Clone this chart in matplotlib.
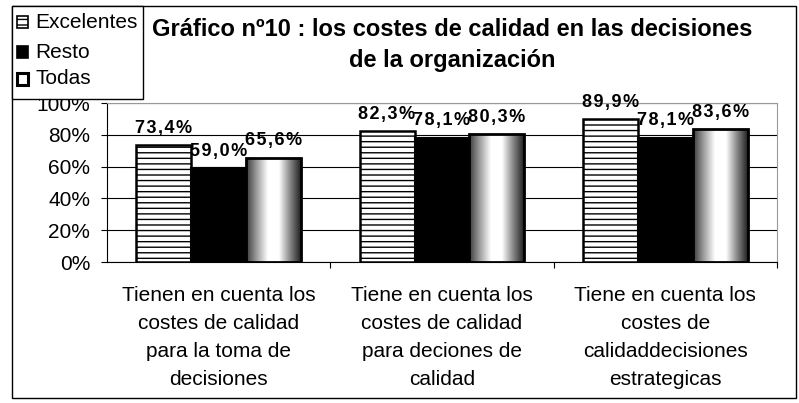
import numpy as np
import matplotlib.pyplot as plt
from matplotlib.patches import Rectangle
from matplotlib.colors import LinearSegmentedColormap

plt.rcParams['font.family'] = ['Liberation Sans', 'DejaVu Sans']
plt.rcParams['hatch.linewidth'] = 1.0

categorias = ['Tienen en cuenta los\ncostes de calidad\npara la toma de\ndecisiones',
              'Tiene en cuenta los\ncostes de calidad\npara deciones de\ncalidad',
              'Tiene en cuenta los\ncostes de\ncalidaddecisiones\nestrategicas']
excelentes = [73.4, 82.3, 89.9]
resto = [59.0, 78.1, 78.1]
todas = [65.6, 80.3, 83.6]
series = ['Excelentes', 'Resto', 'Todas']
yticks = [0, 20, 40, 60, 80, 100]

W, H = 799, 403
fig = plt.figure(figsize=(W / 100, H / 100), dpi=100)
ax = fig.add_axes([107 / W, 1 - 262 / H, 670 / W, 159 / H])

# degradado tipo cilindro para "Todas"
grad = LinearSegmentedColormap.from_list('cil', ['#3a3a3a', '#a0a0a0', '#ffffff', '#ffffff', '#8a8a8a', '#202020'])
g = np.linspace(0, 1, 256).reshape(1, -1)

x = np.arange(len(categorias))
w = 0.246

b1 = ax.bar(x - w, excelentes, w, color='white', edgecolor='black', hatch='---', linewidth=1.8, zorder=3)
b2 = ax.bar(x, resto, w, color='black', edgecolor='black', linewidth=1.5, zorder=3)
b3 = ax.bar(x + w, todas, w, color='none', edgecolor='black', linewidth=2, zorder=4)

for bar in b3:
    bx, by = bar.get_x(), bar.get_y()
    im = ax.imshow(g, cmap=grad, aspect='auto', extent=[bx, bx + bar.get_width(), by, by + bar.get_height()], zorder=3)
    im.set_clip_path(bar)

def etiqueta(v):
    return '\u200a'.join(f'{v:.1f}%'.replace('.', ','))

for bars, vals in [(b1, excelentes), (b2, resto), (b3, todas)]:
    for bar, v in zip(bars, vals):
        ax.annotate(etiqueta(v), (bar.get_x() + bar.get_width() / 2, v),
                    xytext=(0, 9), textcoords='offset points', ha='center', va='baseline',
                    fontsize=13, fontweight='bold', zorder=5, annotation_clip=False)

ax.set_xlim(-0.5, 2.5)
ax.set_ylim(0, 100)
ax.set_yticks(yticks)
ax.set_yticklabels([f'{t}%' for t in yticks], fontsize=15)
ax.yaxis.grid(True, color='black', linewidth=0.8, zorder=0)
ax.set_xticks([0.5, 1.5, 2.5])
ax.set_xticklabels([])
ax.set_xticks(x, minor=True)
ax.set_xticklabels(categorias, minor=True, fontsize=15, linespacing=1.6)
ax.tick_params(axis='x', which='minor', length=0, pad=17)
ax.tick_params(axis='x', which='major', length=4, direction='out')
ax.tick_params(axis='y', length=4, direction='out', pad=8)
ax.spines['top'].set_color('#999999')
ax.spines['right'].set_color('#999999')

fig.text(452 / W, 1 - 29 / H, 'Gráfico nº10 : los costes de calidad en las decisiones',
         ha='center', va='center', fontsize=17, fontweight='bold')
fig.text(452 / W, 1 - 61 / H, 'de la organización',
         ha='center', va='center', fontsize=17, fontweight='bold')

# marco exterior
fig.patches.append(Rectangle((12 / W, 1 - 398 / H), 784 / W, 392 / H, transform=fig.transFigure,
                             fill=False, edgecolor='black', linewidth=1))

# leyenda
fig.patches.append(Rectangle((12 / W, 1 - 99 / H), 131 / W, 93 / H, transform=fig.transFigure,
                             facecolor='white', edgecolor='black', linewidth=1, zorder=10))
ys = [22, 52, 79]
estilos = [dict(facecolor='white', hatch='---', linewidth=1.2),
           dict(facecolor='black', linewidth=1.2),
           dict(facecolor='white', linewidth=2.2)]
for nombre, yy, st in zip(series, ys, estilos):
    fig.patches.append(Rectangle((17 / W, 1 - (yy + 5.5) / H), 11 / W, 11 / H, transform=fig.transFigure,
                                 edgecolor='black', zorder=11, **st))
    fig.text(35 / W, 1 - yy / H, nombre, ha='left', va='center', fontsize=15, zorder=11)

fig.savefig('out.png', dpi=100)
